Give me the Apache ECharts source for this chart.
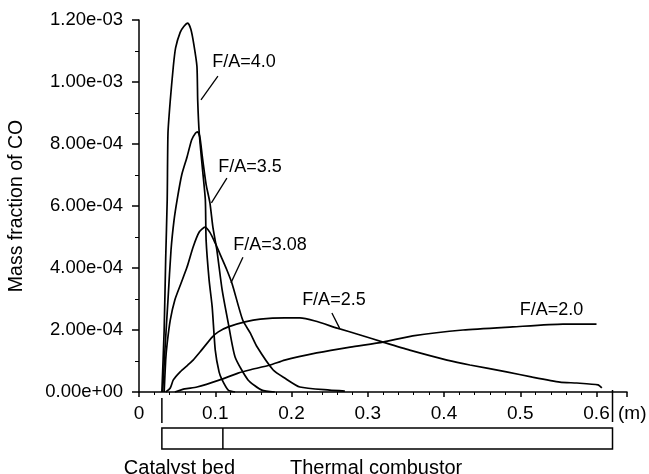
<!DOCTYPE html>
<html>
<head>
<meta charset="utf-8">
<script src="https://cdn.jsdelivr.net/npm/echarts@6/dist/echarts.min.js"></script>
<style>
  html, body { margin: 0; padding: 0; background: #fff; }
  #chart { width: 649px; height: 474px; }
</style>
</head>
<body>
<div id="chart"></div>
<script>
// CO mass fraction along the reactor axis for several fuel/air ratios.
// Each point: [axial position (m), mass fraction in units of 1e-4]
const fa40 = [[0.030,0],[0.033,2.0],[0.035,4.3],[0.037,6.2],[0.038,8.35],[0.041,9.4],[0.045,10.5],[0.048,11.1],[0.054,11.6],[0.059,11.8],[0.064,11.9],[0.068,11.7],[0.072,11.2],[0.076,10.5],[0.077,9.4],[0.079,8.35],[0.083,7.26],[0.087,6.2],[0.088,4.9],[0.092,3.6],[0.096,2.74],[0.100,1.35],[0.105,0.65],[0.109,0.39],[0.117,0.06],[0.126,0]];
const fa35 = [[0.031,0],[0.034,1.35],[0.038,2.97],[0.042,4.58],[0.046,5.55],[0.050,6.2],[0.056,7.0],[0.063,7.58],[0.069,8.13],[0.074,8.35],[0.077,8.39],[0.080,8.2],[0.083,7.6],[0.088,6.7],[0.093,6.1],[0.097,5.3],[0.102,4.6],[0.109,3.3],[0.117,2.23],[0.126,1.13],[0.143,0.39],[0.161,0.06],[0.178,0]];
const fa308 = [[0.033,0],[0.035,1.03],[0.037,1.58],[0.041,2.32],[0.047,2.97],[0.055,3.5],[0.063,4.03],[0.071,4.68],[0.079,5.16],[0.0865,5.32],[0.093,5.15],[0.100,4.8],[0.108,4.35],[0.115,3.95],[0.122,3.5],[0.136,2.32],[0.146,1.9],[0.155,1.45],[0.176,0.71],[0.191,0.45],[0.211,0.16],[0.250,0.06],[0.270,0.03]];
const fa25 = [[0.035,0],[0.041,0.13],[0.045,0.39],[0.054,0.65],[0.064,0.87],[0.071,1.03],[0.080,1.29],[0.096,1.77],[0.104,1.94],[0.117,2.1],[0.139,2.26],[0.159,2.35],[0.191,2.39],[0.211,2.39],[0.231,2.29],[0.260,2.06],[0.290,1.84],[0.320,1.61],[0.355,1.35],[0.404,1.03],[0.434,0.87],[0.482,0.65],[0.516,0.48],[0.552,0.32],[0.574,0.29],[0.602,0.23],[0.607,0.13]];
const fa20 = [[0.047,0],[0.060,0.1],[0.076,0.16],[0.106,0.39],[0.130,0.61],[0.145,0.71],[0.172,0.87],[0.191,1.03],[0.233,1.26],[0.277,1.45],[0.320,1.61],[0.359,1.81],[0.425,2.0],[0.490,2.1],[0.556,2.19],[0.600,2.19]];

// Curve labels: text, anchor [m, 1e-4], leader line [from, to] or null
const curveNames = ['F/A=4.0', 'F/A=3.5', 'F/A=3.08', 'F/A=2.5', 'F/A=2.0'];
const labelAnchors = [[0.1376,10.65],[0.1455,7.26],[0.1717,4.74],[0.2556,2.97],[0.541,2.65]];
const leaders = [
  [[0.1035,10.19],[0.0813,9.42]],
  [[0.1153,6.9],[0.0950,6.1]],
  [[0.1363,4.35],[0.1206,3.52]],
  [[0.253,2.55],[0.263,2.06]],
  null
];

// Reactor sections along the axis (m)
const sectionEdges = [0.030, 0.110, 0.621];
const sectionNames = ['Catalyst bed', 'Thermal combustor'];
const sectionLabelAt = [0.053, 0.311];

const UNIT = 1e-4;
const toReal = arr => arr.map(p => [p[0], p[1] * UNIT]);
const curves = [fa40, fa35, fa308, fa25, fa20];

const INK = '#000';
const FONT = 'Liberation Sans, Arial, Helvetica, sans-serif';

function sci(v) {
  return v.toExponential(2).replace(/e([+-])(\d)$/, 'e$10$2');
}

const chart = echarts.init(document.getElementById('chart'), null, { renderer: 'canvas' });

const series = curves.map((c, i) => ({
  type: 'line',
  name: curveNames[i],
  data: toReal(c),
  showSymbol: false,
  smooth: 0.2,
  silent: true,
  lineStyle: { color: INK, width: 1.7 },
  markLine: leaders[i] ? {
    silent: true,
    symbol: 'none',
    label: { show: false },
    lineStyle: { color: INK, width: 1.3, type: 'solid' },
    data: [[{ coord: [leaders[i][0][0], leaders[i][0][1] * UNIT] },
            { coord: [leaders[i][1][0], leaders[i][1][1] * UNIT] }]]
  } : undefined
}));

series.push({
  type: 'scatter',
  silent: true,
  symbolSize: 0,
  itemStyle: { opacity: 1 },
  data: labelAnchors.map((a, i) => ({ name: curveNames[i], value: [a[0], a[1] * UNIT] })),
  label: {
    show: true,
    position: 'inside',
    formatter: '{b}',
    color: INK,
    opacity: 1,
    textBorderWidth: 0,
    fontSize: 18,
    fontFamily: FONT
  }
});

chart.setOption({
  animation: false,
  backgroundColor: '#fff',
  grid: { left: 139, right: 22, top: 20, bottom: 82, containLabel: false, outerBoundsMode: 'none' },
  xAxis: {
    type: 'value',
    min: 0,
    max: 0.64,
    interval: 0.1,
    name: '(m)',
    nameLocation: 'end',
    nameGap: -9,
    nameTextStyle: { color: INK, fontSize: 19, fontFamily: FONT, align: 'left', verticalAlign: 'top', padding: [12, 0, 0, 0] },
    axisLine: { lineStyle: { color: INK, width: 1.5 } },
    axisTick: { show: true, length: 5, lineStyle: { color: INK, width: 1.5 } },
    minorTick: { show: true, splitNumber: 5, length: 3, lineStyle: { color: INK, width: 1 } },
    splitLine: { show: false },
    axisLabel: {
      color: INK, fontSize: 19, fontFamily: FONT, margin: 12, showMaxLabel: false,
      formatter: v => (v === 0 ? '0' : String(+v.toFixed(1)))
    }
  },
  yAxis: {
    type: 'value',
    min: 0,
    max: 12 * UNIT,
    interval: 2 * UNIT,
    name: 'Mass fraction of CO',
    nameLocation: 'middle',
    nameGap: 112,
    nameTextStyle: { color: INK, fontSize: 19.5, fontFamily: FONT },
    axisLine: { show: true, lineStyle: { color: INK, width: 1.5 } },
    axisTick: { show: true, length: 7, lineStyle: { color: INK, width: 1.5 } },
    minorTick: { show: true, splitNumber: 2, length: 4, lineStyle: { color: INK, width: 1 } },
    splitLine: { show: false },
    axisLabel: { color: INK, fontSize: 18.5, fontFamily: FONT, margin: 16, formatter: sci }
  },
  series: series
});

// Reactor layout strip beneath the axis
const px = v => chart.convertToPixel({ xAxisIndex: 0 }, v);
const x0 = px(sectionEdges[0]);
const x1 = px(sectionEdges[1]);
const x2 = px(sectionEdges[2]);
const boxTop = 428, boxH = 21;
const stroke = { stroke: INK, lineWidth: 1.5, fill: null };

chart.setOption({
  graphic: [
    { type: 'line', silent: true, shape: { x1: x0, y1: 398, x2: x0, y2: 423 }, style: stroke },
    { type: 'line', silent: true, shape: { x1: x2, y1: 390, x2: x2, y2: 422 }, style: stroke },
    { type: 'rect', silent: true, shape: { x: x0, y: boxTop, width: x2 - x0, height: boxH }, style: { stroke: INK, lineWidth: 1.5, fill: '#fff' } },
    { type: 'line', silent: true, shape: { x1: x1, y1: boxTop, x2: x1, y2: boxTop + boxH }, style: stroke },
    { type: 'text', silent: true, x: px(sectionLabelAt[0]), y: 468,
      style: { text: sectionNames[0], fill: INK, font: '20px ' + FONT, textAlign: 'center', textVerticalAlign: 'middle' } },
    { type: 'text', silent: true, x: px(sectionLabelAt[1]), y: 468,
      style: { text: sectionNames[1], fill: INK, font: '20px ' + FONT, textAlign: 'center', textVerticalAlign: 'middle' } }
  ]
});
</script>
</body>
</html>
